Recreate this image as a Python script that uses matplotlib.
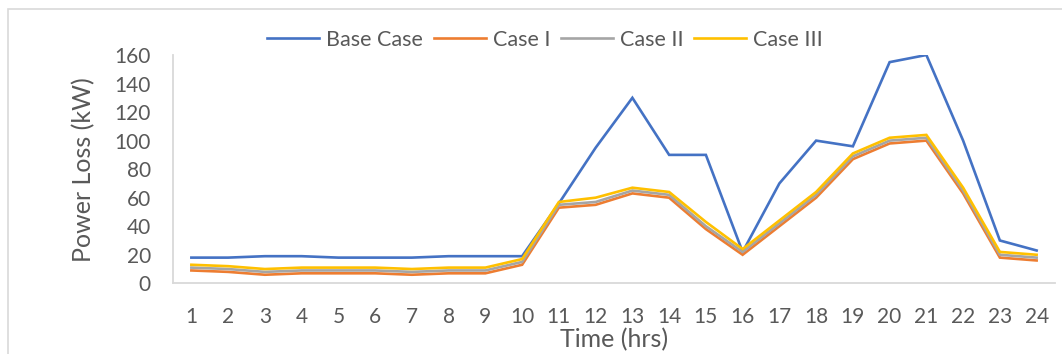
import matplotlib
matplotlib.use("Agg")
import matplotlib.pyplot as plt
from matplotlib.patches import Rectangle

hours = list(range(1, 25))
base_case = [18, 18, 19, 19, 18, 18, 18, 19, 19, 19, 56, 95, 130, 90, 90, 22,
             70, 100, 96, 155, 160, 100, 30, 23]
case_1 = [9, 8, 6, 7, 7, 7, 6, 7, 7, 13, 53, 55, 63, 60, 38, 20,
          40, 60, 87, 98, 100, 63, 18, 16]
case_2 = [11, 10, 8, 9, 9, 9, 8, 9, 9, 15, 55, 57, 65, 62, 40, 22,
          42, 62, 89, 100, 102, 65, 20, 18]
case_3 = [13, 12, 10, 11, 11, 11, 10, 11, 11, 17, 57, 60, 67, 64, 43, 24,
          44, 64, 91, 102, 104, 67, 22, 20]
series_names = ["Base Case", "Case I", "Case II", "Case III"]
y_ticks = [0, 20, 40, 60, 80, 100, 120, 140, 160]

colors = ["#4472C4", "#ED7D31", "#A5A5A5", "#FFC000"]
plt.rcParams['font.family'] = ['Lato', 'DejaVu Sans']
txt = "#595959"

fig = plt.figure(figsize=(10.62, 3.54), dpi=100)
ax = fig.add_axes([173/1062, 1-283.3/354, (1055-173)/1062, (283.3-55)/354])

for name, vals, c in zip(series_names, [base_case, case_1, case_2, case_3], colors):
    ax.plot(hours, vals, color=c, lw=1.9, label=name, solid_joinstyle='miter')

ax.set_xlim(0.5, 24.5)
ax.set_ylim(0, 160)
ax.set_yticks(y_ticks)
ax.set_xticks(hours)
ax.tick_params(axis='both', length=0, labelsize=15, colors=txt)
ax.tick_params(axis='y', pad=16)
ax.tick_params(axis='x', pad=17)
for s in ['top', 'right']:
    ax.spines[s].set_visible(False)
for s in ['left', 'bottom']:
    ax.spines[s].set_color('#D9D9D9')
    ax.spines[s].set_linewidth(1.3)

ax.set_xlabel("Time (hrs)", fontsize=18, color=txt, labelpad=1)
ax.set_ylabel("Power Loss (kW)", fontsize=18, color=txt, labelpad=14)

fig.legend(loc='center', bbox_to_anchor=(545/1062, 1-40/354), ncol=4,
           frameon=False, fontsize=15.5, handlelength=2.4, columnspacing=0.5,
           handletextpad=0.33, labelcolor=txt)

fig.patches.append(Rectangle((8/1062, -0.1), 1.2, 1-9/354+0.1,
                             transform=fig.transFigure, fill=False,
                             edgecolor='#D9D9D9', lw=1.2))

fig.savefig("out.png", dpi=100)
